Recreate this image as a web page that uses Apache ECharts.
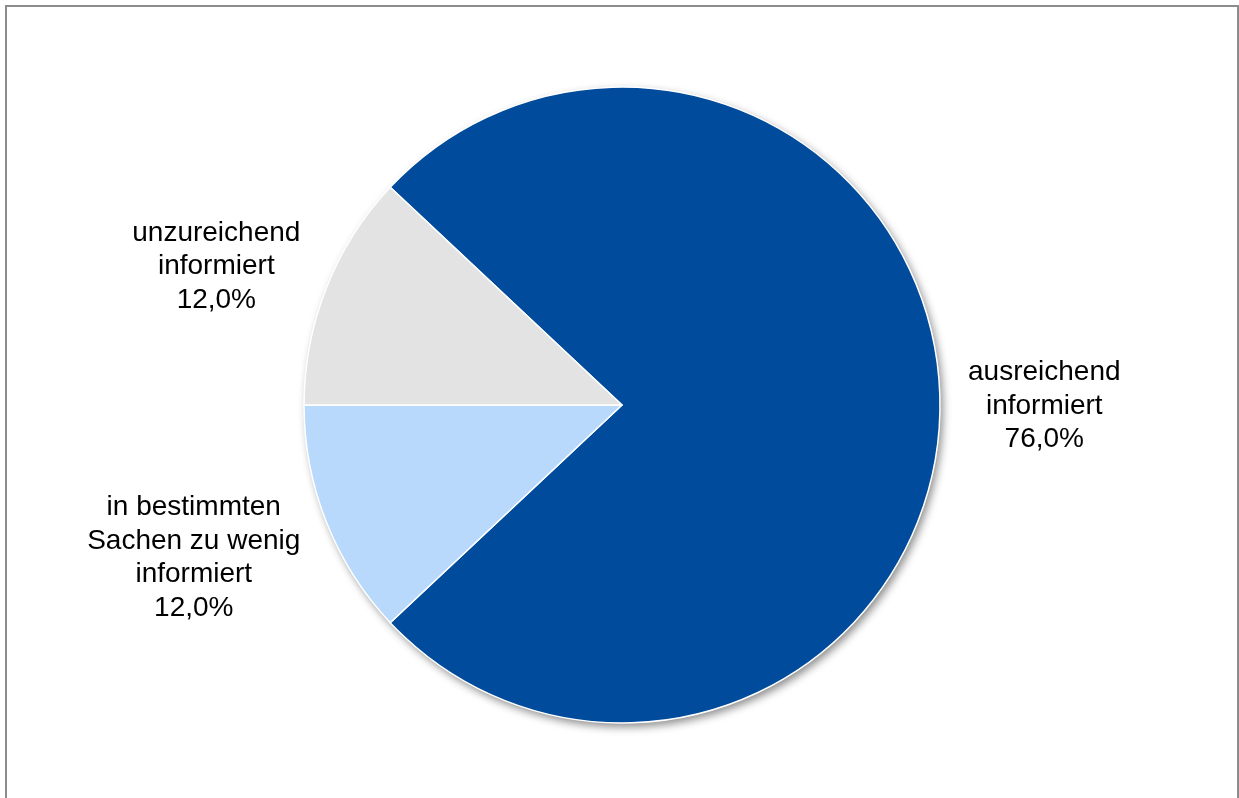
<!DOCTYPE html>
<html>
<head>
<meta charset="utf-8">
<script src="https://cdn.jsdelivr.net/npm/echarts@6/dist/echarts.min.js"></script>
<style>
  html, body { margin: 0; padding: 0; background: #fff; }
  #chart { width: 1239px; height: 798px; }
</style>
</head>
<body>
<div id="chart"></div>
<script>
// data
const categories = [
  "ausreichend\ninformiert",
  "in bestimmten\nSachen zu wenig\ninformiert",
  "unzureichend\ninformiert"
];
const shares = [76.0, 12.0, 12.0];
const colors = ["#004B9B", "#B8D9FB", "#E3E3E3"];
// small label nudges (x, y) after centring the label box
const labelNudge = [[-2, 1], [3, 30], [3, -16]];

const myChart = echarts.init(document.getElementById("chart"));

const pieData = categories.map((name, i) => ({
  name: name,
  value: shares[i],
  itemStyle: { color: colors[i] }
}));

const option = {
  backgroundColor: "#fff",
  animation: false,
  graphic: [
    {
      type: "rect",
      shape: { x: 6, y: 6, width: 1232, height: 800 },
      style: { fill: "none", stroke: "#8c8c8c", lineWidth: 2 },
      silent: true
    }
  ],
  series: [
    {
      // shadow layer behind the pie
      type: "pie",
      center: [622, 405],
      radius: 318,
      silent: true,
      z: 1,
      label: { show: false },
      labelLine: { show: false },
      itemStyle: {
        color: "#ffffff",
        shadowBlur: 8,
        shadowOffsetX: 3,
        shadowOffsetY: 4,
        shadowColor: "rgba(0,0,0,0.45)"
      },
      data: [{ value: 100 }]
    },
    {
      type: "pie",
      center: [622, 405],
      radius: 318,
      startAngle: 136.8,
      clockwise: true,
      z: 2,
      itemStyle: { borderColor: "#ffffff", borderWidth: 1.5 },
      label: {
        show: true,
        position: "outside",
        color: "#000",
        fontFamily: "Liberation Sans, Arial, sans-serif",
        fontSize: 28,
        lineHeight: 33.5,
        distanceToLabelLine: 5,
        formatter: (p) =>
          p.name + "\n" + p.value.toFixed(1).replace(".", ",") + "%"
      },
      labelLine: { show: false, length: 15, length2: 10 },
      labelLayout: (params) => {
        const r = params.labelRect;
        const n = labelNudge[params.dataIndex] || [0, 0];
        return {
          x: r.x + r.width / 2 + n[0],
          y: r.y + r.height / 2 + n[1],
          align: "center",
          verticalAlign: "middle"
        };
      },
      emphasis: { disabled: true },
      data: pieData
    }
  ]
};

myChart.setOption(option);
</script>
</body>
</html>
